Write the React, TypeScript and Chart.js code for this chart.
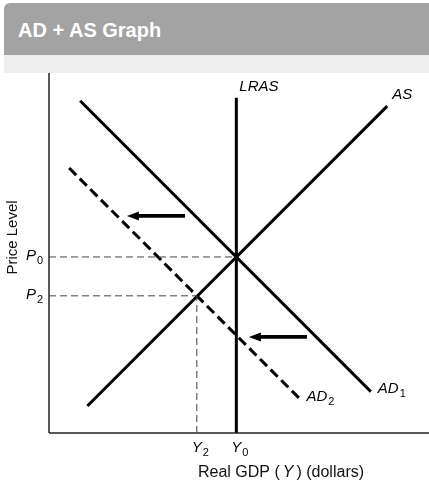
import React, { useEffect, useRef } from 'react';
import { Chart, registerables } from 'chart.js';

Chart.register(...registerables);

// ---- data (abstract units, 0..100 on both axes) ----
const X_RANGE = [0, 100];
const Y_RANGE = [0, 100];
const Y0 = 49.3;
const Y2 = 38.9;
const P0 = 48.9;
const P2 = 38.1;
const LRAS_LINE = [{ x: Y0, y: 0 }, { x: Y0, y: 93.1 }];
const AS_LINE = [{ x: 10.1, y: 7.5 }, { x: 89.0, y: 90.8 }];
const AD1_LINE = [{ x: 8.2, y: 92.3 }, { x: 84.7, y: 11.5 }];
const AD2_LINE = [{ x: 5.3, y: 73.6 }, { x: 65.9, y: 9.6 }];
const P0_GUIDE = [{ x: 0, y: P0 }, { x: Y0, y: P0 }];
const P2_GUIDE = [{ x: 0, y: P2 }, { x: Y2, y: P2 }];
const Y2_GUIDE = [{ x: Y2, y: 0 }, { x: Y2, y: P2 }];
const X_AXIS_LINE = [{ x: 0, y: 0 }, { x: 100, y: 0 }];
const Y_AXIS_LINE = [{ x: 0, y: 0 }, { x: 0, y: 100 }];
const ARROW_TAILS = [{ x: 35.8, y: 60.3 }, { x: 67.9, y: 26.7 }];
const ARROW_HEADS = [{ x: 20.5, y: 60.3 }, { x: 52.6, y: 26.7 }];
const PRICE_TICKS = [{ main: 'P', sub: '0', value: P0 }, { main: 'P', sub: '2', value: P2 }];
const GDP_TICKS = [{ main: 'Y', sub: '2', value: Y2 }, { main: 'Y', sub: '0', value: Y0 }];
const CURVE_NAMES = [
  { main: 'LRAS', sub: '' },
  { main: 'AS', sub: '' },
  { main: 'AD', sub: '1' },
  { main: 'AD', sub: '2' },
];
const TITLE = 'AD + AS Graph';
const X_TITLE = ['Real GDP (', 'Y', ') (dollars)'];
const Y_TITLE = 'Price Level';

const FONT = '"Liberation Sans", Arial, Helvetica, sans-serif';

function drawSubLabel(ctx: CanvasRenderingContext2D, main: string, sub: string, x: number, y: number) {
  ctx.font = `italic 15px ${FONT}`;
  ctx.textAlign = 'left';
  ctx.textBaseline = 'alphabetic';
  ctx.fillText(main, x, y);
  const w = ctx.measureText(main).width;
  if (sub) {
    ctx.font = `11px ${FONT}`;
    ctx.fillText(sub, x + w + 1, y + 4);
  }
}

const labelPlugin = {
  id: 'labels',
  afterDatasetsDraw(chart: any) {
    const ctx: CanvasRenderingContext2D = chart.ctx;
    const xs = chart.scales.x;
    const ys = chart.scales.y;
    const area = chart.chartArea;
    const px = (p: { x: number; y: number }) => ({ x: xs.getPixelForValue(p.x), y: ys.getPixelForValue(p.y) });
    ctx.save();
    ctx.fillStyle = '#000';
    ctx.strokeStyle = '#000';

    // arrows
    for (let i = 0; i < ARROW_TAILS.length; i++) {
      const t = px(ARROW_TAILS[i]);
      const h = px(ARROW_HEADS[i]);
      const ang = Math.atan2(h.y - t.y, h.x - t.x);
      const len = 12;
      const half = 4.5;
      const bx = h.x - Math.cos(ang) * len;
      const by = h.y - Math.sin(ang) * len;
      ctx.lineWidth = 3.8;
      ctx.lineCap = 'butt';
      ctx.beginPath();
      ctx.moveTo(t.x, t.y);
      ctx.lineTo(bx + Math.cos(ang) * 2, by + Math.sin(ang) * 2);
      ctx.stroke();
      ctx.beginPath();
      ctx.moveTo(h.x, h.y);
      ctx.lineTo(bx - Math.sin(ang) * half, by + Math.cos(ang) * half);
      ctx.lineTo(bx + Math.sin(ang) * half, by - Math.cos(ang) * half);
      ctx.closePath();
      ctx.fill();
    }

    // price ticks
    for (const t of PRICE_TICKS) {
      const y = ys.getPixelForValue(t.value);
      drawSubLabel(ctx, t.main, t.sub, area.left - 23, y + 3);
    }
    // gdp ticks
    for (const t of GDP_TICKS) {
      const x = xs.getPixelForValue(t.value);
      drawSubLabel(ctx, t.main, t.sub, x - 5, area.bottom + 19);
    }

    // curve names
    const lr = px(LRAS_LINE[1]);
    drawSubLabel(ctx, CURVE_NAMES[0].main, CURVE_NAMES[0].sub, lr.x + 3, lr.y - 7);
    const as = px(AS_LINE[1]);
    drawSubLabel(ctx, CURVE_NAMES[1].main, CURVE_NAMES[1].sub, as.x + 5, as.y - 7);
    const a1 = px(AD1_LINE[1]);
    drawSubLabel(ctx, CURVE_NAMES[2].main, CURVE_NAMES[2].sub, a1.x + 7, a1.y + 1);
    const a2 = px(AD2_LINE[1]);
    drawSubLabel(ctx, CURVE_NAMES[3].main, CURVE_NAMES[3].sub, a2.x + 7, a2.y + 3);

    // x title
    ctx.fillStyle = '#111';
    let x = area.left + 149;
    const by = area.bottom + 44;
    ctx.font = `16px ${FONT}`;
    ctx.fillText(X_TITLE[0], x, by);
    x += ctx.measureText(X_TITLE[0]).width + 3;
    ctx.font = `italic 16px ${FONT}`;
    ctx.fillText(X_TITLE[1], x, by);
    x += ctx.measureText(X_TITLE[1]).width + 3;
    ctx.font = `16px ${FONT}`;
    ctx.fillText(X_TITLE[2], x, by);

    // y title
    ctx.save();
    ctx.translate(area.left - 32, area.top + 164.5);
    ctx.rotate(-Math.PI / 2);
    ctx.font = `15px ${FONT}`;
    ctx.textAlign = 'center';
    ctx.fillText(Y_TITLE, 0, 0);
    ctx.restore();

    ctx.restore();
  },
};

export default function App() {
  const ref = useRef<HTMLCanvasElement>(null);
  useEffect(() => {
    if (!ref.current) return;
    const line = (data: any[], extra: any = {}) => ({
      data,
      showLine: true,
      pointRadius: 0,
      borderColor: '#000',
      borderWidth: 3,
      borderCapStyle: 'butt',
      clip: false,
      ...extra,
    });
    const guide = { borderColor: '#444', borderWidth: 1, borderDash: [7, 4] };
    const axis = { borderColor: '#222', borderWidth: 1.5 };
    const chart = new Chart(ref.current, {
      type: 'scatter',
      data: {
        datasets: [
          line(P0_GUIDE, guide),
          line(P2_GUIDE, guide),
          line(Y2_GUIDE, guide),
          line(X_AXIS_LINE, axis),
          line(Y_AXIS_LINE, axis),
          line(LRAS_LINE),
          line(AS_LINE),
          line(AD1_LINE),
          line(AD2_LINE, { borderDash: [10, 5] }),
        ] as any,
      },
      options: {
        animation: false,
        responsive: false,
        layout: { padding: { left: 49, right: 0, top: 0, bottom: 50 } },
        scales: {
          x: { type: 'linear', min: X_RANGE[0], max: X_RANGE[1], display: false },
          y: { type: 'linear', min: Y_RANGE[0], max: Y_RANGE[1], display: false },
        },
        plugins: { legend: { display: false }, tooltip: { enabled: false } },
      },
      plugins: [labelPlugin],
    });
    return () => chart.destroy();
  }, []);

  return (
    <div style={{ position: 'fixed', left: 0, top: 0, width: 429, height: 483, background: '#fff', overflow: 'hidden' }}>
      <div
        style={{
          position: 'absolute',
          left: 4,
          top: 3,
          right: 0,
          height: 52,
          background: '#a3a3a3',
          borderTopLeftRadius: 6,
        }}
      >
        <div
          style={{
            position: 'absolute',
            left: 14,
            top: 17,
            color: '#fff',
            fontFamily: FONT,
            fontWeight: 'bold',
            fontSize: 20,
            lineHeight: '20px',
            whiteSpace: 'nowrap',
          }}
        >
          {TITLE}
        </div>
      </div>
      <div style={{ position: 'absolute', left: 4, top: 55, right: 0, height: 18, background: '#eeeeee' }} />
      <canvas ref={ref} width={429} height={410} style={{ position: 'absolute', left: 0, top: 73, width: 429, height: 410 }} />
    </div>
  );
}
